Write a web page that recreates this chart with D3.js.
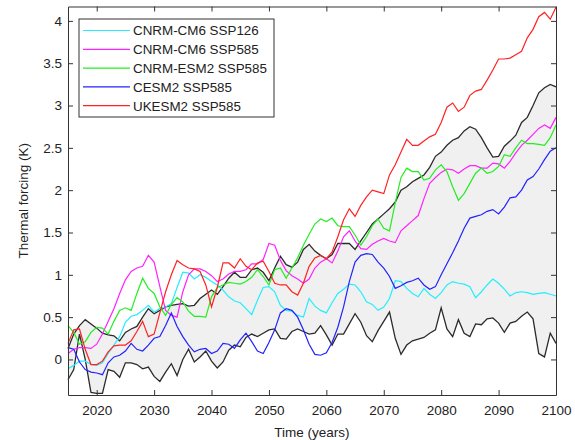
<!DOCTYPE html>
<html>
<head>
<meta charset="utf-8">
<script src="https://cdn.jsdelivr.net/npm/d3@7"></script>
<style>
  body { margin: 0; background: #fff; }
  text { font-family: "Liberation Sans", Arial, sans-serif; fill: #222; }
</style>
</head>
<body>
<div id="chart"></div>
<script>

//********************* DATA ************************************

var years = d3.range(2015, 2101);

var cnrmCm6Ssp126 = [-0.11,-0.07,-0.02,-0.02,-0.06,-0.07,-0.04,0.07,0.17,0.27,
  0.44,0.51,0.53,0.58,0.64,0.56,0.60,0.62,0.66,0.85,
  1.03,1.02,0.95,1.00,0.97,0.92,0.88,0.82,0.74,0.69,
  0.67,0.60,0.53,0.70,0.85,0.86,0.80,0.64,0.58,0.57,
  0.52,0.50,0.72,0.63,0.58,0.55,0.67,0.78,0.83,0.89,
  0.88,0.80,0.68,0.65,0.58,0.62,0.72,0.93,0.92,0.84,
  0.78,0.74,0.84,0.77,0.72,0.79,0.88,0.92,0.90,0.89,
  0.86,0.73,0.80,0.88,0.95,0.90,0.83,0.75,0.79,0.80,
  0.79,0.77,0.78,0.79,0.77,0.75];

var cnrmCm6Ssp585 = [0.07,0.12,0.14,0.14,0.13,0.18,0.30,0.45,0.60,0.78,
  0.94,1.04,1.08,1.10,1.23,1.15,0.86,0.58,0.52,0.50,
  0.80,1.00,1.07,1.07,1.04,0.99,0.92,0.95,1.01,1.04,
  1.04,1.06,1.13,1.13,1.18,1.37,1.35,1.17,1.05,0.99,
  0.95,0.90,0.95,1.08,1.15,1.19,1.14,1.28,1.45,1.52,
  1.40,1.31,1.30,1.36,1.40,1.43,1.40,1.38,1.52,1.58,
  1.64,1.70,1.90,2.08,2.15,2.21,2.25,2.24,2.20,2.25,
  2.29,2.29,2.26,2.26,2.32,2.31,2.26,2.34,2.44,2.53,
  2.59,2.66,2.73,2.77,2.73,2.86];

var cnrmEsm2Ssp585 = [0.40,0.32,0.18,0.21,0.32,0.38,0.37,0.30,0.45,0.58,
  0.61,0.58,0.78,0.96,0.84,0.78,0.62,0.52,0.65,0.73,
  0.68,0.57,0.51,0.51,0.50,0.74,0.85,0.88,0.91,0.90,
  0.89,0.92,0.97,1.06,0.98,0.88,1.06,1.08,0.96,1.08,
  1.20,1.35,1.48,1.60,1.66,1.63,1.67,1.58,1.57,1.57,
  1.47,1.35,1.45,1.58,1.66,1.55,1.52,1.85,2.15,2.26,
  2.22,2.22,2.12,2.14,2.24,2.30,2.22,2.04,1.88,1.96,
  2.08,2.20,2.26,2.20,2.22,2.28,2.42,2.40,2.50,2.59,
  2.55,2.55,2.54,2.53,2.62,2.77];

var cesm2Ssp585 = [0.14,0.12,-0.03,-0.12,-0.15,-0.16,-0.18,-0.04,0.03,0.05,
  0.10,0.19,0.12,0.10,0.17,0.25,0.27,0.40,0.55,0.39,
  0.27,0.17,0.09,0.12,0.13,0.07,0.10,0.19,0.18,0.13,
  0.23,0.31,0.21,0.10,0.07,0.20,0.35,0.55,0.60,0.58,
  0.50,0.35,0.18,0.06,0.05,0.08,0.20,0.38,0.62,0.92,
  1.15,1.23,1.25,1.24,1.15,1.08,0.98,0.84,0.87,0.91,
  0.93,0.96,0.88,0.83,0.86,1.00,1.13,1.26,1.40,1.55,
  1.67,1.69,1.71,1.75,1.77,1.72,1.80,1.91,1.92,2.00,
  2.12,2.16,2.25,2.36,2.46,2.50];

var ukesm2Ssp585 = [0.19,0.35,0.36,0.12,-0.06,-0.06,-0.02,0.09,0.16,0.17,
  0.17,0.22,0.33,0.45,0.27,0.30,0.55,0.80,1.00,1.17,
  1.12,1.08,1.07,1.04,0.88,0.62,0.85,1.14,1.14,1.08,
  1.19,1.10,1.06,1.14,1.16,1.04,0.90,0.88,0.88,0.80,
  0.76,0.90,1.10,1.20,1.23,1.19,1.27,1.45,1.65,1.78,
  1.69,1.82,1.92,2.00,1.98,1.96,2.18,2.30,2.45,2.60,
  2.53,2.53,2.58,2.63,2.66,2.80,2.98,3.03,2.93,2.98,
  3.12,3.17,3.19,3.30,3.42,3.55,3.55,3.56,3.60,3.64,
  3.80,3.90,4.05,4.10,4.02,4.16];

// envelope (black lines, grey band between them)
var envelopeUpper = [0.13,0.30,0.40,0.47,0.42,0.37,0.31,0.29,0.28,0.22,
  0.32,0.36,0.39,0.50,0.60,0.54,0.58,0.62,0.64,0.65,
  0.66,0.63,0.64,0.72,0.77,0.82,0.77,0.86,0.96,1.03,
  0.97,0.97,1.06,1.08,1.03,0.93,1.08,1.22,1.12,1.09,
  1.15,1.30,1.36,1.28,1.23,1.19,1.24,1.37,1.37,1.37,
  1.30,1.40,1.50,1.60,1.66,1.72,1.78,1.86,2.00,2.04,
  2.10,2.14,2.18,2.27,2.40,2.45,2.53,2.59,2.62,2.70,
  2.75,2.72,2.62,2.50,2.39,2.40,2.52,2.58,2.65,2.80,
  2.86,3.00,3.15,3.21,3.25,3.22];

var envelopeLower = [-0.24,-0.12,0.30,0.00,-0.39,-0.40,-0.40,-0.12,-0.14,-0.21,
  -0.04,-0.04,-0.06,-0.11,-0.09,-0.20,-0.26,-0.15,-0.05,-0.19,
  0.00,0.12,-0.03,0.03,0.10,-0.02,-0.10,-0.03,0.11,0.17,
  0.15,0.26,0.30,0.27,0.31,0.35,0.36,0.25,0.24,0.33,
  0.36,0.33,0.30,0.31,0.40,0.29,0.17,0.30,0.30,0.42,
  0.54,0.44,0.28,0.21,0.34,0.45,0.56,0.25,0.06,0.17,
  0.22,0.24,0.26,0.31,0.35,0.61,0.36,0.27,0.47,0.31,
  0.27,0.42,0.41,0.48,0.49,0.43,0.32,0.43,0.45,0.51,
  0.56,0.48,0.07,0.03,0.31,0.19];

var seriesNames = ["CNRM-CM6 SSP126", "CNRM-CM6 SSP585", "CNRM-ESM2 SSP585",
                   "CESM2 SSP585", "UKESM2 SSP585"];
var seriesValues = [cnrmCm6Ssp126, cnrmCm6Ssp585, cnrmEsm2Ssp585, cesm2Ssp585, ukesm2Ssp585];
var seriesColors = ["#22eeff", "#ff22ff", "#22ee22", "#2222ff", "#ff2222"];

var yTicks = [0, 0.5, 1, 1.5, 2, 2.5, 3, 3.5, 4];
var xTicks = [2020, 2030, 2040, 2050, 2060, 2070, 2080, 2090, 2100];

//********************* DIMENSIONS ************************************

var margin = {top: 6.5, right: 19, bottom: 45, left: 68},
    width = 575 - margin.left - margin.right,
    height = 440 - margin.top - margin.bottom;

var x = d3.scaleLinear().domain([2015, 2100]).range([0, width]);
var y = d3.scaleLinear().domain([-0.42, 4.17]).range([height, 0]);

var svg = d3.select("#chart").append("svg")
    .attr("width", 575)
    .attr("height", 440)
  .append("g")
    .attr("transform", "translate(" + margin.left + "," + margin.top + ")");

//********************* BAND + LINES ************************************

var band = d3.area()
    .x(function(d, i) { return x(years[i]); })
    .y0(function(d, i) { return y(envelopeLower[i]); })
    .y1(function(d, i) { return y(envelopeUpper[i]); });

svg.append("path")
    .datum(years)
    .attr("d", band)
    .attr("fill", "#f0f0f0");

function lineFor(values) {
  return d3.line()
      .x(function(d, i) { return x(years[i]); })
      .y(function(d) { return y(d); })(values);
}

[envelopeUpper, envelopeLower].forEach(function(v) {
  svg.append("path")
      .attr("d", lineFor(v))
      .attr("fill", "none")
      .attr("stroke", "#2b2b2b")
      .attr("stroke-width", 1.3);
});

seriesValues.forEach(function(v, k) {
  svg.append("path")
      .attr("d", lineFor(v))
      .attr("fill", "none")
      .attr("stroke", seriesColors[k])
      .attr("stroke-width", 1.2);
});

//********************* AXES ************************************

function styleAxis(g) {
  g.selectAll("path").attr("stroke", "#333");
  g.selectAll("line").attr("stroke", "#333");
  g.selectAll("text").style("font-size", "13.5px").attr("fill", "#222");
}

svg.append("g")
    .attr("transform", "translate(0," + height + ")")
    .call(d3.axisBottom(x).tickValues(xTicks).tickFormat(d3.format("d"))
          .tickSizeInner(-5).tickSizeOuter(0).tickPadding(10))
    .call(styleAxis);

svg.append("g")
    .call(d3.axisTop(x).tickValues(xTicks).tickFormat("")
          .tickSizeInner(-5).tickSizeOuter(0))
    .call(styleAxis);

svg.append("g")
    .call(d3.axisLeft(y).tickValues(yTicks).tickFormat(d3.format("~g"))
          .tickSizeInner(-5).tickSizeOuter(0).tickPadding(6))
    .call(styleAxis);

svg.append("g")
    .attr("transform", "translate(" + width + ",0)")
    .call(d3.axisRight(y).tickValues(yTicks).tickFormat("")
          .tickSizeInner(-5).tickSizeOuter(0))
    .call(styleAxis);

svg.append("text")
    .attr("x", width / 2)
    .attr("y", height + 42)
    .attr("text-anchor", "middle")
    .style("font-size", "13.5px")
    .text("Time (years)");

svg.append("text")
    .attr("transform", "translate(-40," + (height / 2) + ") rotate(-90)")
    .attr("text-anchor", "middle")
    .style("font-size", "13.5px")
    .text("Thermal forcing (K)");

//********************* LEGEND ************************************

var legend = svg.append("g")
    .attr("transform", "translate(" + (79 - margin.left) + "," + (19 - margin.top) + ")");

legend.append("rect")
    .attr("width", 195)
    .attr("height", 98)
    .attr("fill", "#fff")
    .attr("stroke", "#333")
    .attr("stroke-width", 1);

seriesNames.forEach(function(name, k) {
  var ly = 11.5 + k * 18.8;
  legend.append("line")
      .attr("x1", 4).attr("x2", 51)
      .attr("y1", ly).attr("y2", ly)
      .attr("stroke", seriesColors[k])
      .attr("stroke-width", 1.2);
  legend.append("text")
      .attr("x", 54)
      .attr("y", ly + 4.8)
      .style("font-size", "13.4px")
      .text(name);
});

</script>
</body>
</html>
